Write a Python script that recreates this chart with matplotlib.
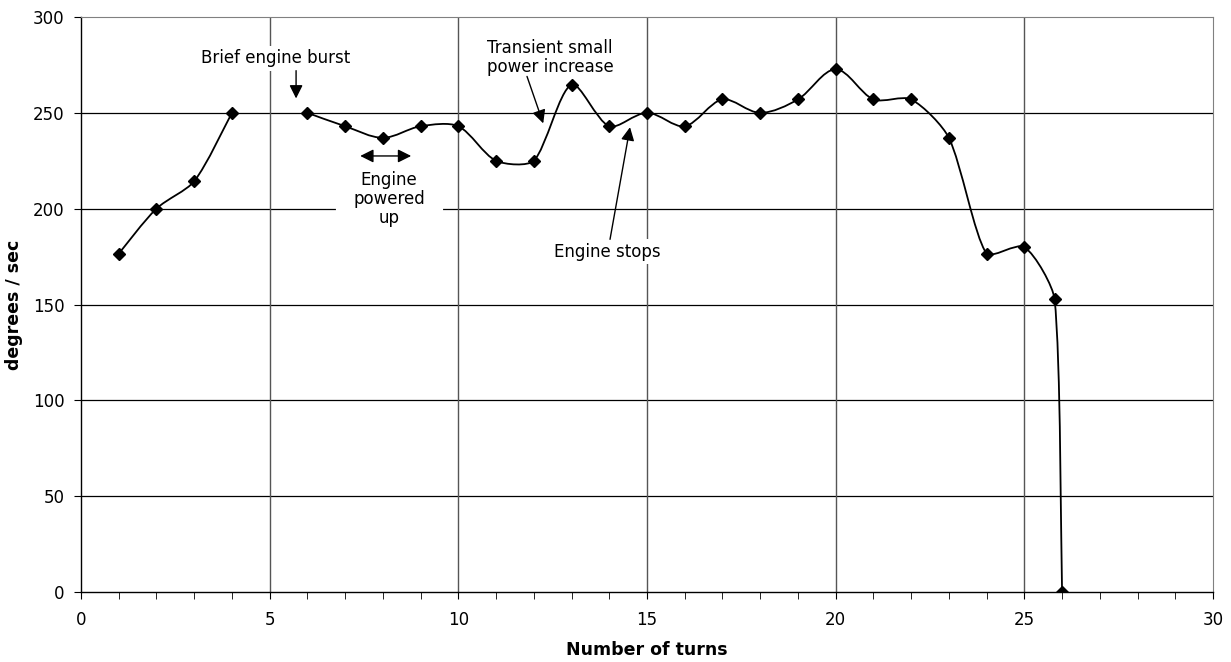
import numpy as np
import matplotlib.pyplot as plt
from matplotlib.path import Path
from matplotlib.patches import PathPatch

# data: two runs of turns with a gap at turn 5
turns_a = [1, 2, 3, 4]
speed_a = [176.5, 200, 214.3, 250]
turns_b = [6, 7, 8, 9, 10, 11, 12, 13, 14, 15, 16, 17, 18, 19, 20,
           21, 22, 23, 24, 25, 25.8, 26]
speed_b = [250, 243, 237, 243, 243, 225, 225, 264.7, 243, 250, 243, 257,
           250, 257, 272.7, 257, 257, 237, 176.5, 180, 153, 0]

x_ticks = [0, 5, 10, 15, 20, 25, 30]
y_ticks = [0, 50, 100, 150, 200, 250, 300]

plt.rcParams['font.family'] = ['DejaVu Sans']
FS = 12

fig = plt.figure(figsize=(12.31, 6.62), dpi=100)
ax = fig.add_axes([81 / 1231, 1 - 592 / 662, (1213 - 81) / 1231, (592 - 17) / 662])
ax.set_xlim(0, 30)
ax.set_ylim(0, 300)


def smooth_path(xs, ys):
    # Excel-like smoothed line: cubic Bezier segments built in display space
    pts = ax.transData.transform(np.column_stack([xs, ys]))
    n = len(pts)
    tan = []
    for i in range(n):
        p0 = pts[max(i - 1, 0)]
        p2 = pts[min(i + 1, n - 1)]
        tan.append((p2 - p0) / 6.0)
    verts = [pts[0]]
    codes = [Path.MOVETO]
    for i in range(n - 1):
        a, b = pts[i], pts[i + 1]
        d = np.hypot(*(b - a))
        d_prev = np.hypot(*(a - pts[i - 1])) if i > 0 else d
        d_next = np.hypot(*(pts[i + 2] - b)) if i + 2 < n else d
        fa = min(1.0, d / d_prev) if d_prev > 0 else 1.0
        fb = min(1.0, d / d_next) if d_next > 0 else 1.0
        c1 = a + tan[i] * fa
        c2 = b - tan[i + 1] * fb
        verts += [c1, c2, b]
        codes += [Path.CURVE4] * 3
    verts = ax.transData.inverted().transform(np.array(verts))
    return Path(verts, codes)


for xs, ys in [(turns_a, speed_a), (turns_b, speed_b)]:
    ax.add_patch(PathPatch(smooth_path(xs, ys), facecolor='none',
                           edgecolor='black', lw=1.3, zorder=3))
    ax.plot(xs, ys, linestyle='none', marker='D', ms=6, color='black', zorder=4)

# grid and axes styling
ax.set_xticks(x_ticks)
ax.set_yticks(y_ticks)
ax.set_xticks(range(0, 31), minor=True)
for y in y_ticks[1:-1]:
    ax.axhline(y, color='black', lw=0.9, zorder=1)
for x in x_ticks[1:-1]:
    ax.axvline(x, color='#555555', lw=1.0, zorder=1)
ax.spines['top'].set_color('#808080')
ax.spines['right'].set_color('#808080')
ax.spines['left'].set_linewidth(1.0)
ax.spines['bottom'].set_linewidth(1.0)
ax.tick_params(axis='both', which='major', direction='out', length=5,
               labelsize=FS)
ax.tick_params(axis='x', which='major', pad=9)
ax.tick_params(axis='y', which='major', pad=7)
ax.tick_params(axis='x', which='minor', direction='out', length=5)
ax.tick_params(axis='y', which='minor', length=0)

ax.set_xlabel('Number of turns', fontsize=12.5, fontweight='heavy', labelpad=8)
ax.set_ylabel('degrees / sec', fontsize=12.5, fontweight='heavy', labelpad=7)

# annotations
white = dict(boxstyle='square,pad=0.2', fc='white', ec='none')
arrow = dict(arrowstyle='-|>', color='black', lw=1.0, mutation_scale=20,
             shrinkA=0, shrinkB=0)

ax.text(5.15, 278.5, 'Brief engine burst', ha='center', va='center',
        fontsize=FS, bbox=white, zorder=5)
ax.annotate('', xy=(5.7, 257.5), xytext=(5.7, 272), arrowprops=arrow, zorder=5)

ax.annotate('', xy=(8.75, 227.5), xytext=(7.4, 227.5),
            arrowprops=dict(arrowstyle='<|-|>', color='black', lw=1.0,
                            mutation_scale=20, shrinkA=0, shrinkB=0))
ax.text(8.16, 205, 'Engine\npowered\nup', ha='center', va='center',
        fontsize=FS, linespacing=1.05, zorder=5,
        bbox=dict(boxstyle='square,pad=0.2', fc='white', ec='none'))
ax.plot([6.8, 9.55], [200, 200], color='white', lw=3, zorder=1.5)

ax.text(12.43, 279, 'Transient small\npower increase', ha='center',
        va='center', fontsize=FS, linespacing=1.05, bbox=white, zorder=5)
ax.annotate('', xy=(12.25, 244.5), xytext=(11.82, 269), arrowprops=arrow,
            zorder=5)

ax.text(13.95, 177.5, 'Engine stops', ha='center', va='center',
        fontsize=FS, bbox=white, zorder=5)
ax.annotate('', xy=(14.55, 242.5), xytext=(14.02, 184), arrowprops=arrow,
            zorder=5)

fig.savefig('out.png', dpi=100)
